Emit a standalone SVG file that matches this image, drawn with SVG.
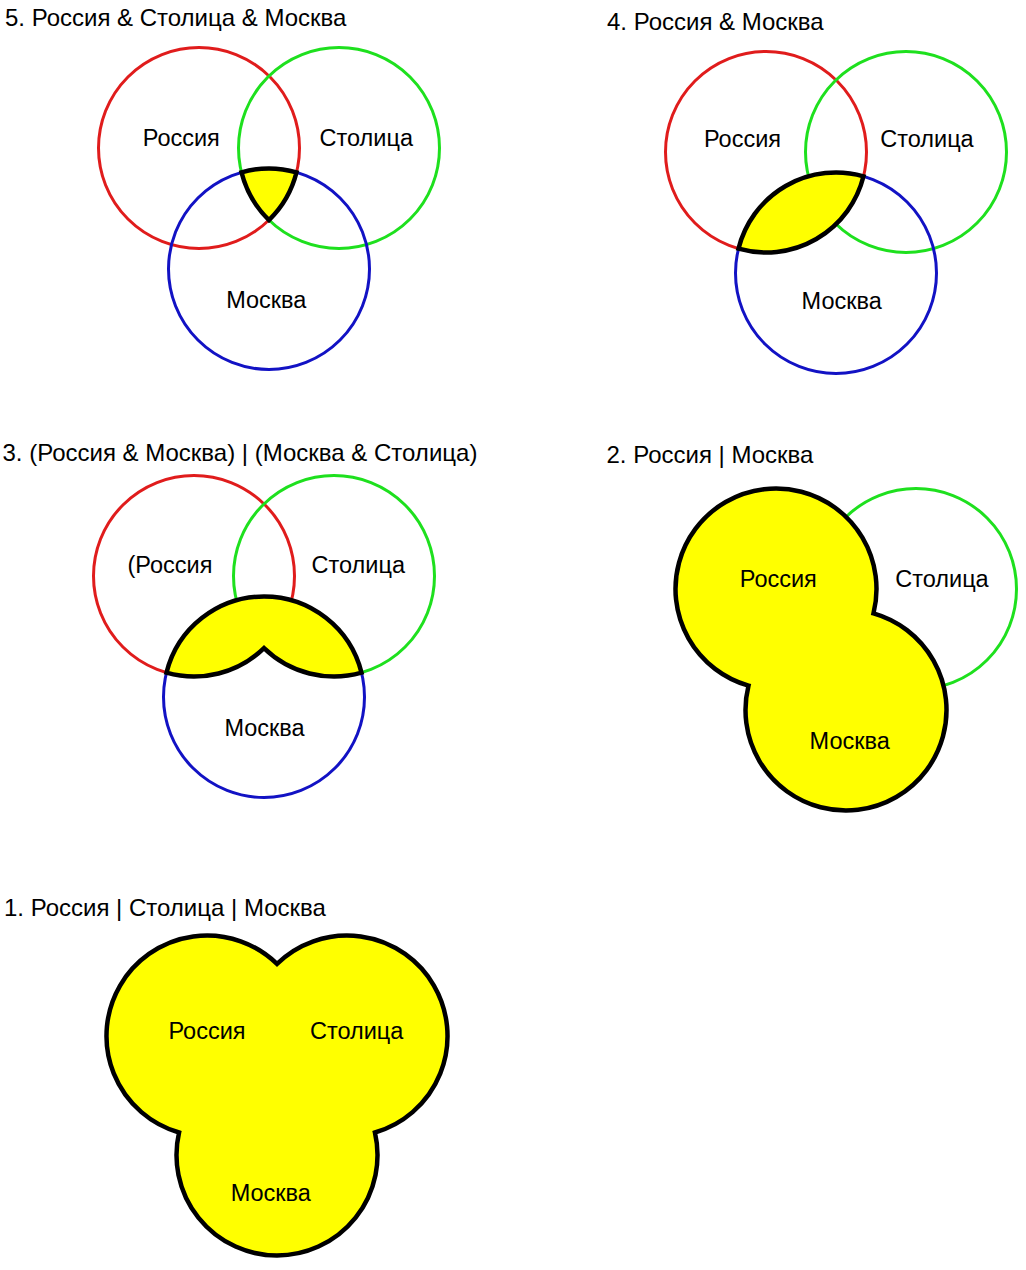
<svg xmlns="http://www.w3.org/2000/svg" width="1026" height="1270" viewBox="0 0 1026 1270">
<style>
text{font-family:"Liberation Sans",Arial,sans-serif;font-size:23.5px;fill:#000}
.ttl{font-size:24px}
.lbl{text-anchor:middle}
.c{fill:none;stroke-width:3}
.r{stroke:#E01C1C}
.g{stroke:#1EE01E}
.b{stroke:#1212C4}
.sel{fill:#FFFF00;stroke:#000;stroke-width:4.5;stroke-linejoin:miter}
</style>
<rect width="1026" height="1270" fill="#fff"/>
<g id="panel5">
<text class="ttl" x="5" y="26">5. Россия &amp; Столица &amp; Москва</text>
<circle class="c r" cx="199" cy="148" r="100.5"/>
<circle class="c g" cx="339" cy="148" r="100.5"/>
<circle class="c b" cx="269" cy="269" r="100.5"/>
<path class="sel" d="M241.49,172.33 A100.5,100.5 0 0 1 296.51,172.33 A100.5,100.5 0 0 1 269,220.11 A100.5,100.5 0 0 1 241.49,172.33 Z"/>
<text class="lbl" x="181.3" y="146">Россия</text>
<text class="lbl" x="366.3" y="146">Столица</text>
<text class="lbl" x="266.3" y="308">Москва</text>
</g>
<g id="panel4">
<text class="ttl" x="607" y="30">4. Россия &amp; Москва</text>
<circle class="c r" cx="766" cy="152" r="100.5"/>
<circle class="c g" cx="906" cy="152" r="100.5"/>
<circle class="c b" cx="836" cy="273" r="100.5"/>
<path class="sel" d="M738.49,248.67 A100.5,100.5 0 0 1 863.51,176.33 A100.5,100.5 0 0 1 738.49,248.67 Z"/>
<text class="lbl" x="742.5" y="147.3">Россия</text>
<text class="lbl" x="927" y="147.3">Столица</text>
<text class="lbl" x="841.7" y="309">Москва</text>
</g>
<g id="panel3">
<text class="ttl" x="2.5" y="461">3. (Россия &amp; Москва) | (Москва &amp; Столица)</text>
<circle class="c r" cx="194" cy="576" r="100.5"/>
<circle class="c g" cx="334" cy="576" r="100.5"/>
<circle class="c b" cx="264" cy="697" r="100.5"/>
<path class="sel" d="M166.49,672.67 A100.5,100.5 0 0 1 361.51,672.67 A100.5,100.5 0 0 1 264,648.11 A100.5,100.5 0 0 1 166.49,672.67 Z"/>
<text class="lbl" x="170" y="573">(Россия</text>
<text class="lbl" x="358.3" y="573">Столица</text>
<text class="lbl" x="264.5" y="735.5">Москва</text>
</g>
<g id="panel2">
<text class="ttl" x="606.5" y="463">2. Россия | Москва</text>
<circle class="c g" cx="916" cy="589" r="100.5"/>
<path class="sel" d="M873.51,613.33 A100.5,100.5 0 1 0 748.49,685.67 A100.5,100.5 0 1 0 873.51,613.33 Z"/>
<text class="lbl" x="778.3" y="586.5">Россия</text>
<text class="lbl" x="942" y="586.5">Столица</text>
<text class="lbl" x="849.7" y="748.5">Москва</text>
</g>
<g id="panel1">
<text class="ttl" x="4" y="916">1. Россия | Столица | Москва</text>
<path class="sel" d="M277,963.89 A100.5,100.5 0 1 1 374.95,1132.53 A100.5,100.5 0 1 1 179.05,1132.53 A100.5,100.5 0 1 1 277,963.89 Z"/>
<text class="lbl" x="207" y="1039">Россия</text>
<text class="lbl" x="356.7" y="1039">Столица</text>
<text class="lbl" x="270.8" y="1200.5">Москва</text>
</g>
</svg>
